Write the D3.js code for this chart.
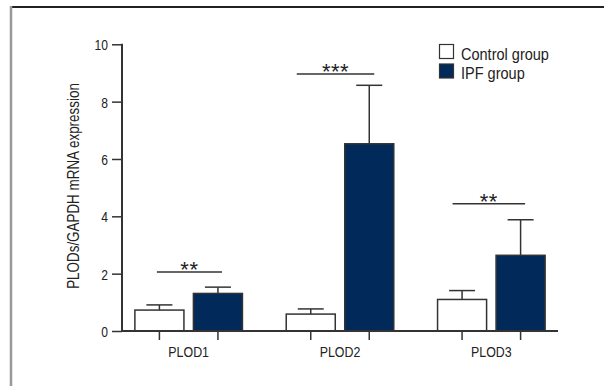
<!DOCTYPE html>
<html><head><meta charset="utf-8">
<script src="https://cdn.jsdelivr.net/npm/d3@7"></script>
<style>
html,body{margin:0;padding:0;background:#fff;}
svg{display:block;}
text{font-family:"Liberation Sans",Arial,sans-serif;fill:#222;}
</style></head>
<body>
<script>
const categories = ["PLOD1", "PLOD2", "PLOD3"];
const groups = ["Control group", "IPF group"];
const controlMean = [0.73, 0.59, 1.10];
const controlErr  = [0.91, 0.77, 1.41];
const ipfMean     = [1.31, 6.53, 2.64];
const ipfErr      = [1.53, 8.57, 3.88];
const sigLabels   = ["**", "***", "**"];
const sigLevels   = [2.06, 8.96, 4.44];
const yTicks      = [0, 2, 4, 6, 8, 10];
const yLabel      = "PLODs/GAPDH mRNA expression";

const W = 604, H = 386;
const svg = d3.select("body").append("svg").attr("width", W).attr("height", H);

// frame
svg.append("line").attr("x1", 11).attr("x2", 604).attr("y1", 7).attr("y2", 7)
  .attr("stroke", "#222").attr("stroke-width", 2);
svg.append("line").attr("x1", 11).attr("x2", 11).attr("y1", 6).attr("y2", 386)
  .attr("stroke", "#999").attr("stroke-width", 2.5);

const y = d3.scaleLinear().domain([0, 10]).range([331, 44.3]);
const x0 = d3.scaleBand().domain(categories).range([113, 567]).padding(0);
const x1 = d3.scaleBand().domain(groups).range([0, x0.bandwidth()])
  .paddingInner(0.162).paddingOuter(0.374);
const color = d3.scaleOrdinal().domain(groups).range(["#ffffff", "#012a5b"]);

const rows = [];
categories.forEach((c, i) => {
  rows.push({cat: c, g: groups[0], v: controlMean[i], e: controlErr[i]});
  rows.push({cat: c, g: groups[1], v: ipfMean[i], e: ipfErr[i]});
});

// y axis
const yAxis = d3.axisLeft(y).tickValues(yTicks).tickSize(10).tickFormat(d3.format("d"));
const gy = svg.append("g").attr("transform", "translate(122,0)").call(yAxis);
gy.select(".domain").remove();
gy.selectAll(".tick line").attr("stroke", "#333").attr("stroke-width", 1.5);
gy.selectAll(".tick text").attr("x", 0).attr("dy", null).attr("y", 5.5)
  .attr("transform", "translate(-14,0) scale(0.78,1)")
  .style("font-size", "15.5px").attr("fill", "#222");
svg.append("line").attr("x1", 122).attr("x2", 122).attr("y1", y(10) - 0.5).attr("y2", y(0) + 1)
  .attr("stroke", "#333").attr("stroke-width", 2);

// bars
svg.append("g").selectAll("rect").data(rows).join("rect")
  .attr("x", d => x0(d.cat) + x1(d.g))
  .attr("y", d => y(d.v))
  .attr("width", x1.bandwidth())
  .attr("height", d => y(0) - y(d.v))
  .attr("fill", d => color(d.g))
  .attr("stroke", "#333").attr("stroke-width", 1.5);

// error bars
const eb = svg.append("g").attr("stroke", "#333").attr("stroke-width", 1.5);
rows.forEach(d => {
  const cx = x0(d.cat) + x1(d.g) + x1.bandwidth() / 2;
  eb.append("line").attr("x1", cx).attr("x2", cx).attr("y1", y(d.v)).attr("y2", y(d.e));
  eb.append("line").attr("x1", cx - 13).attr("x2", cx + 13).attr("y1", y(d.e)).attr("y2", y(d.e));
});

// x axis
svg.append("line").attr("x1", 121).attr("x2", 558).attr("y1", y(0)).attr("y2", y(0))
  .attr("stroke", "#333").attr("stroke-width", 2);
rows.forEach(d => {
  const cx = x0(d.cat) + x1(d.g) + x1.bandwidth() / 2;
  svg.append("line").attr("x1", cx).attr("x2", cx).attr("y1", y(0)).attr("y2", y(0) + 9)
    .attr("stroke", "#333").attr("stroke-width", 1.5);
});
const xAxis = d3.axisBottom(x0).tickSize(0);
const gx = svg.append("g").attr("transform", `translate(0,${y(0)})`).call(xAxis);
gx.select(".domain").remove();
gx.selectAll(".tick text").attr("y", 0).attr("dy", null)
  .attr("transform", "translate(0,26) scale(0.8,1)")
  .style("font-size", "15.5px").attr("fill", "#222");

// significance
const sigOffsets = [[-2.5, 4], [-14, 5], [-9.5, 4.5]];
categories.forEach((c, i) => {
  const cA = x0(c) + x1(groups[0]) + x1.bandwidth() / 2;
  const cB = x0(c) + x1(groups[1]) + x1.bandwidth() / 2;
  const xa = cA + sigOffsets[i][0], xb = cB + sigOffsets[i][1];
  svg.append("line").attr("x1", xa).attr("x2", xb).attr("y1", y(sigLevels[i])).attr("y2", y(sigLevels[i]))
    .attr("stroke", "#333").attr("stroke-width", 1.5);
  svg.append("text").attr("x", (xa + xb) / 2).attr("y", y(sigLevels[i]) + 5)
    .attr("text-anchor", "middle").attr("fill", "#444")
    .style("font-size", "22px").style("letter-spacing", "0.5px").text(sigLabels[i]);
});

// y label
svg.append("text").attr("transform", "translate(79,186) rotate(-90) scale(0.79,1)")
  .attr("text-anchor", "middle").style("font-size", "17px").text(yLabel);

// legend
const lg = svg.append("g");
groups.forEach((g, i) => {
  lg.append("rect").attr("x", 439.5).attr("y", 44.5 + i * 19.5).attr("width", 14).attr("height", 14)
    .attr("fill", color(g)).attr("stroke", "#333").attr("stroke-width", 1.2);
  lg.append("text").attr("transform", `translate(461,${59.5 + i * 19.5}) scale(0.88,1)`)
    .style("font-size", "16.5px").text(g);
});
</script>
</body></html>
